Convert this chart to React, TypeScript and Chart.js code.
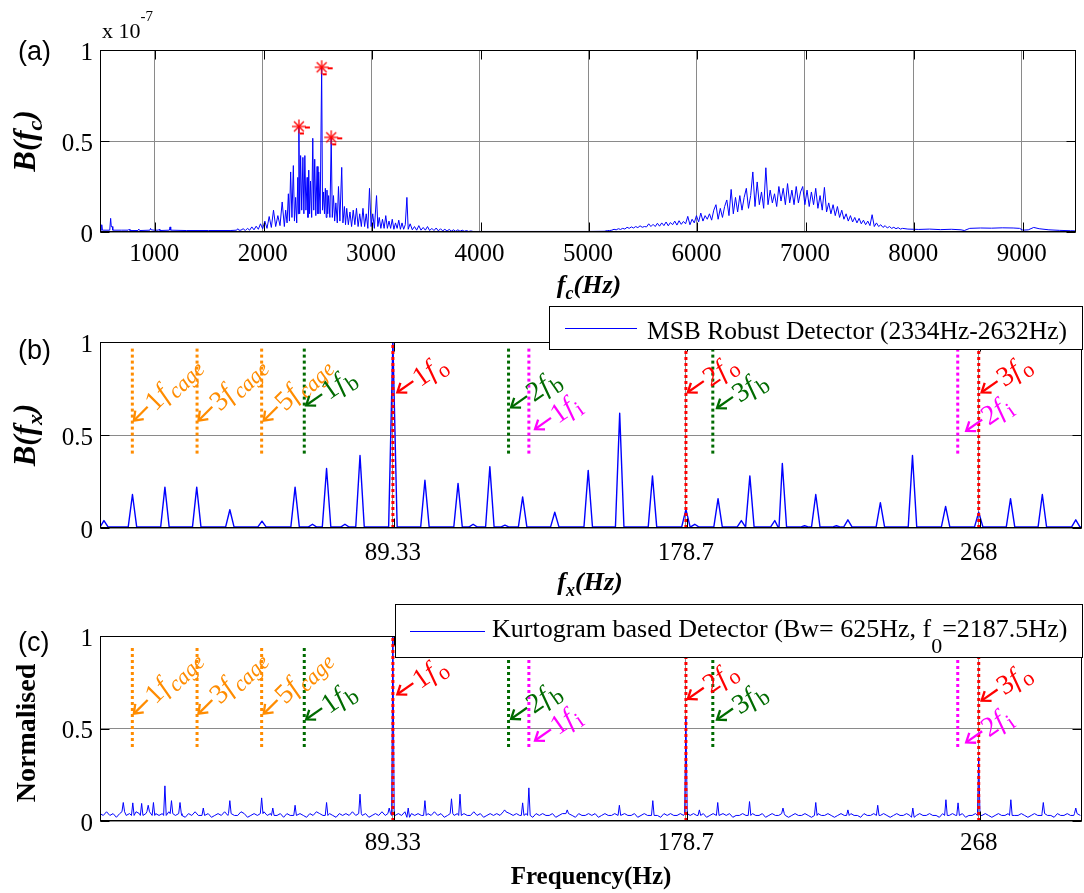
import { useEffect, useRef } from 'react';
import { Chart, registerables } from 'chart.js';

Chart.register(...registerables);

const SERIF = "'Liberation Serif', 'Times New Roman', serif";
const SANS = "'Liberation Sans', Arial, sans-serif";

// ---------------- data ----------------

// (a) bispectral magnitude B(fc) against carrier frequency, in units of 1e-7
const fcRange = [500, 9500];
const fcTicks = [1000, 2000, 3000, 4000, 5000, 6000, 7000, 8000, 9000];
const levelTicks = [0, 0.5, 1];
const levelLabels = ['0', '0.5', '1'];

// the three detected carrier peaks
const detectedHz = [2334, 2544, 2632];
const detectedB = [0.58, 0.905, 0.52];

const fcQuiet: [number, number][] = [
  [500, 0.01], [510, 0.01], [516, 0.04], [522, 0.01], [590, 0.01], [598, 0.075], [604, 0.03], [612, 0.03],
  [618, 0.01], [700, 0.01], [760, 0.01], [768, 0.015], [776, 0.008], [850, 0.008], [858, 0.016], [866, 0.008],
  [960, 0.01], [966, 0.02], [972, 0.012], [1000, 0.01], [1040, 0.01], [1046, 0.015], [1052, 0.008], [1140, 0.01],
  [1146, 0.028], [1152, 0.01], [1300, 0.008], [1500, 0.008], [1700, 0.008], [1760, 0.01], [1770, 0.018], [1780, 0.01],
];

const fcLowerBand: [number, number][] = [
  [1800, 0.01], [1820, 0.018], [1840, 0.008], [1860, 0.02], [1880, 0.01], [1900, 0.028], [1920, 0.012], [1940, 0.032],
  [1960, 0.015], [1980, 0.045], [2000, 0.018], [2020, 0.06], [2040, 0.02], [2060, 0.085], [2080, 0.025], [2100, 0.12],
  [2120, 0.03], [2140, 0.09], [2160, 0.035], [2180, 0.165], [2200, 0.03], [2212, 0.12], [2225, 0.05], [2237, 0.21],
  [2247, 0.06], [2258, 0.33], [2270, 0.08], [2283, 0.365], [2293, 0.06], [2304, 0.19], [2314, 0.05], [2324, 0.3],
  [2329, 0.1], [detectedHz[0], detectedB[0]], [2341, 0.1], [2350, 0.42], [2360, 0.12], [2371, 0.41], [2380, 0.1],
  [2389, 0.42], [2399, 0.12], [2410, 0.3], [2418, 0.08], [2425, 0.34], [2433, 0.1], [2441, 0.28], [2452, 0.08],
  [2462, 0.515], [2471, 0.12], [2480, 0.4], [2490, 0.09], [2502, 0.36], [2510, 0.1], [2517, 0.33], [2530, 0.1],
  [detectedHz[1], detectedB[1]], [2552, 0.12], [2562, 0.22], [2570, 0.1], [2578, 0.24], [2586, 0.08], [2593, 0.23],
  [2600, 0.1], [2608, 0.2], [2620, 0.08], [detectedHz[2], detectedB[2]], [2642, 0.08], [2653, 0.2], [2664, 0.06],
  [2675, 0.16], [2688, 0.05], [2699, 0.25], [2712, 0.06], [2729, 0.355], [2740, 0.05], [2754, 0.14], [2764, 0.04],
  [2775, 0.13], [2790, 0.04], [2805, 0.11], [2820, 0.03], [2835, 0.12], [2850, 0.04], [2865, 0.13], [2880, 0.03],
  [2895, 0.1], [2910, 0.03], [2925, 0.13], [2940, 0.03], [2955, 0.1], [2970, 0.02], [2985, 0.24], [3000, 0.03],
  [3015, 0.1], [3030, 0.02], [3050, 0.2], [3062, 0.03], [3075, 0.08], [3090, 0.02], [3105, 0.07], [3120, 0.02],
  [3135, 0.09], [3150, 0.02], [3165, 0.06], [3180, 0.02], [3195, 0.07], [3210, 0.015], [3225, 0.05], [3240, 0.02],
  [3255, 0.065], [3270, 0.015], [3285, 0.05], [3300, 0.015], [3315, 0.04], [3330, 0.19], [3342, 0.015], [3360, 0.045],
  [3380, 0.012], [3400, 0.03], [3420, 0.01], [3440, 0.035], [3460, 0.01], [3480, 0.025], [3500, 0.01], [3520, 0.03],
  [3540, 0.008], [3560, 0.02], [3580, 0.008], [3600, 0.022], [3620, 0.006], [3640, 0.018], [3660, 0.006], [3680, 0.015],
  [3700, 0.005], [3720, 0.014], [3740, 0.005], [3760, 0.012], [3780, 0.004], [3800, 0.012], [3820, 0.004], [3840, 0.01],
  [3860, 0.004], [3880, 0.008], [3900, 0.003], [3920, 0.006], [3940, 0.003],
];

const fcGap: [number, number][] = [
  [3960, 0.003], [4200, 0.003], [4600, 0.003], [5000, 0.003], [5150, 0.004], [5180, 0.008],
];

// upper resonance band sampled every 20 Hz from 5200 Hz
const upperBandStartHz = 5200;
const upperBandStepHz = 20;
const upperBandB = [
  0.008, 0.01, 0.015, 0.012, 0.018, 0.014, 0.02, 0.016, 0.026, 0.02,
  0.028, 0.022, 0.03, 0.024, 0.034, 0.026, 0.03, 0.028, 0.045, 0.03,
  0.042, 0.03, 0.048, 0.032, 0.05, 0.035, 0.055, 0.034, 0.052, 0.04,
  0.06, 0.038, 0.062, 0.042, 0.058, 0.045, 0.086, 0.04, 0.07, 0.05,
  0.09, 0.055, 0.104, 0.06, 0.09, 0.07, 0.1, 0.065, 0.12, 0.15,
  0.07, 0.13, 0.08, 0.14, 0.176, 0.09, 0.234, 0.1, 0.19, 0.11,
  0.2, 0.12, 0.19, 0.24, 0.13, 0.2, 0.33, 0.14, 0.275, 0.15,
  0.22, 0.13, 0.353, 0.15, 0.23, 0.16, 0.21, 0.14, 0.25, 0.17,
  0.24, 0.15, 0.266, 0.16, 0.23, 0.15, 0.25, 0.16, 0.22, 0.25,
  0.15, 0.23, 0.14, 0.22, 0.15, 0.24, 0.13, 0.2, 0.12, 0.245,
  0.11, 0.16, 0.1, 0.15, 0.09, 0.14, 0.08, 0.12, 0.07, 0.1,
  0.06, 0.09, 0.055, 0.08, 0.05, 0.075, 0.045, 0.065, 0.04, 0.06,
  0.035, 0.095, 0.03, 0.05, 0.03, 0.04, 0.025, 0.035, 0.022, 0.03,
  0.02, 0.026, 0.018, 0.024, 0.016, 0.02,
];

const fcTail: [number, number][] = [
  [7950, 0.016], [8050, 0.014], [8150, 0.016], [8250, 0.013], [8350, 0.015], [8440, 0.012], [8470, 0.008],
  [8520, 0.02], [8620, 0.022], [8720, 0.021], [8820, 0.023], [8920, 0.022], [8980, 0.02], [9010, 0.01],
  [9060, 0.012], [9110, 0.025], [9160, 0.018], [9250, 0.012], [9350, 0.009], [9450, 0.007], [9500, 0.006],
];

// (b) & (c) envelope-spectrum frequency axis
const fxRange = [0, 299.5];
const orderTicks = [89.33, 178.7, 268];
const orderLabels = ['89.33', '178.7', '268'];

// (b) MSB detector: spectral peaks (Hz, normalised magnitude)
const msbPeakHz = [
  1.2, 9.9, 19.8, 29.5, 39.6, 49.4, 59.5, 64.8, 69.1, 74.7, 79.3, 89.33, 99.1, 109.2, 113.8, 118.9, 123.5,
  128.9, 138.7, 148.9, 158.5, 168.5, 178.7, 181.4, 188.5, 195.6, 198.2, 205.8, 208.1, 214.9, 218.3, 224.6,
  228.1, 238, 247.8, 257.9, 268, 277.7, 287.4, 297.6,
];
const msbPeakB = [
  0.04, 0.18, 0.22, 0.22, 0.098, 0.037, 0.22, 0.02, 0.32, 0.02, 0.39, 1.0, 0.257, 0.24, 0.02, 0.33, 0.015,
  0.167, 0.085, 0.31, 0.617, 0.28, 0.1, 0.02, 0.158, 0.04, 0.28, 0.04, 0.347, 0.012, 0.18, 0.012,
  0.044, 0.136, 0.39, 0.116, 0.085, 0.158, 0.18, 0.044,
];
const msbFloor = 0.005;

// (c) kurtogram detector: noise floor every 1 Hz (percent) and spectral peaks
const kurtFloorPct = [
  4, 3, 5, 3, 4, 2, 4, 5, 3, 4, 3, 5, 4, 3, 4, 5, 3, 4, 3, 4,
  3, 5, 4, 3, 4, 3, 2, 4, 3, 5, 3, 4, 3, 4, 2, 3, 4, 3, 5, 3,
  4, 3, 3, 5, 4, 2, 3, 4, 3, 4, 5, 3, 4, 3, 3, 4, 2, 4, 3, 5,
  3, 4, 3, 2, 4, 3, 5, 4, 3, 3, 4, 3, 2, 4, 3, 4, 3, 5, 3, 4,
  3, 4, 2, 3, 4, 3, 5, 3, 4, 3, 3, 4, 3, 5, 2, 4, 3, 4, 3, 3,
  4, 3, 5, 3, 4, 2, 3, 4, 3, 4, 3, 4, 3, 3, 5, 3, 4, 2, 3, 4,
  3, 4, 3, 5, 2, 4, 3, 4, 3, 3, 4, 3, 2, 4, 3, 4, 3, 3, 4, 2,
  3, 4, 3, 4, 3, 2, 4, 3, 3, 4, 3, 4, 2, 3, 4, 3, 3, 4, 3, 3,
  4, 3, 3, 4, 2, 3, 4, 3, 4, 3, 3, 2, 4, 3, 4, 3, 3, 4, 3, 4,
  3, 4, 3, 3, 4, 2, 3, 4, 3, 3, 4, 3, 4, 2, 3, 3, 4, 3, 3, 4,
  3, 3, 4, 2, 3, 4, 3, 3, 4, 3, 2, 3, 4, 3, 3, 4, 3, 2, 3, 4,
  3, 3, 4, 3, 2, 3, 4, 3, 3, 4, 3, 3, 2, 4, 3, 3, 4, 3, 3, 4,
  3, 2, 3, 4, 3, 3, 4, 3, 2, 3, 4, 3, 3, 4, 3, 3, 2, 4, 3, 3,
  4, 3, 3, 4, 2, 3, 3, 4, 3, 3, 4, 3, 2, 3, 4, 3, 3, 4, 3, 3,
  3, 4, 3, 2, 3, 4, 3, 3, 4, 3, 3, 2, 4, 3, 3, 4, 3, 3, 4, 3,
];
const kurtPeakHz = [
  7.1, 10, 12.7, 14.7, 16.3, 19.8, 21.8, 24.4, 31.5, 39.6, 49.3, 52.7, 59.5, 69.1, 79.3, 88.2, 89.33, 94,
  99.1, 107.2, 109.8, 123.4, 128.9, 130.8, 142.5, 158.4, 168.6, 178.7, 182.8, 188.4, 198.1, 208.3, 218.3,
  228.1, 237.2, 247.9, 258, 261.7, 268, 277.8, 287.7, 297.6,
];
const kurtPeakB = [
  0.1, 0.098, 0.095, 0.085, 0.1, 0.19, 0.11, 0.1, 0.07, 0.11, 0.125, 0.07, 0.085, 0.1, 0.145, 0.07, 1.0, 0.07,
  0.11, 0.12, 0.145, 0.06, 0.098, 0.179, 0.06, 0.085, 0.11, 0.565, 0.06, 0.1, 0.105, 0.07, 0.1,
  0.06, 0.085, 0.07, 0.115, 0.098, 0.345, 0.115, 0.1, 0.07,
];

// bearing defect frequencies (Hz)
const cageHz = [9.86, 29.6, 49.3];
const ballHz = [62.3, 124.6, 186.9];
const outerHz = [89.33, 178.7, 268];
const innerHz = [130.8, 261.6];
const markerSpanB = [0.4, 0.975];
const markerSpanC = [0.4, 0.94];

// defect tags: text, subscript and anchor (Hz, level) in each panel
const tagLead = ['1', '3', '5', '1', '1', '2', '1', '2', '3', '3', '2'];
const tagSub = ['cage', 'cage', 'cage', 'b', 'o', 'b', 'i', 'o', 'b', 'o', 'i'];
const tagKind = ['cage', 'cage', 'cage', 'ball', 'outer', 'ball', 'inner', 'outer', 'ball', 'outer', 'inner'];
const tagHz = [10.0, 29.7, 49.6, 62.5, 90.3, 125.0, 132.3, 178.9, 187.8, 268.5, 263.8];
const tagLevelB = [0.572, 0.572, 0.572, 0.655, 0.725, 0.644, 0.527, 0.725, 0.64, 0.725, 0.518];
const tagLevelC = [0.574, 0.574, 0.574, 0.545, 0.68, 0.547, 0.43, 0.655, 0.543, 0.646, 0.42];

// ---------------- styles ----------------

const BLUE = '#0000ff';
const GRID = '#8a8a8a';
const KIND_COLOR: Record<string, string> = {
  cage: '#ff8c00',
  ball: '#006b00',
  outer: '#ff0000',
  inner: '#ff00ff',
};
const KIND_TILT: Record<string, number> = { cage: 45, ball: 35, outer: 35, inner: 35 };

// ---------------- helpers ----------------

type Pt = { x: number; y: number };
type Part = { t: string; font: string; dy?: number };

function drawParts(ctx: CanvasRenderingContext2D, parts: Part[], x: number, y: number, align: 'left' | 'center') {
  let w = 0;
  for (const p of parts) {
    ctx.font = p.font;
    w += ctx.measureText(p.t).width;
  }
  let cx = align === 'center' ? x - w / 2 : x;
  ctx.textAlign = 'left';
  ctx.textBaseline = 'alphabetic';
  for (const p of parts) {
    ctx.font = p.font;
    ctx.fillText(p.t, cx, y + (p.dy || 0));
    cx += ctx.measureText(p.t).width;
  }
  return w;
}

function spikeTrace(hz: number[], amp: number[], floor: number, halfWidth: number, xMax: number): Pt[] {
  const pts: Pt[] = [{ x: 0, y: floor }];
  hz.forEach((h, i) => {
    pts.push({ x: h - halfWidth, y: floor }, { x: h, y: amp[i] }, { x: h + halfWidth, y: floor });
  });
  pts.push({ x: xMax, y: floor });
  return pts.sort((a, b) => a.x - b.x);
}

function kurtTrace(): Pt[] {
  const pts: Pt[] = [];
  kurtFloorPct.forEach((p, i) => {
    if (!kurtPeakHz.some((h) => Math.abs(h - i) < 0.6)) pts.push({ x: i, y: p / 100 });
  });
  kurtPeakHz.forEach((h, i) => {
    const base = kurtFloorPct[Math.min(kurtFloorPct.length - 1, Math.round(h))] / 100;
    pts.push({ x: h - 0.4, y: base }, { x: h, y: kurtPeakB[i] }, { x: h + 0.4, y: base });
  });
  return pts.sort((a, b) => a.x - b.x);
}

function carrierTrace(): Pt[] {
  const upper: [number, number][] = upperBandB.map((v, i) => [upperBandStartHz + i * upperBandStepHz, v]);
  return [...fcQuiet, ...fcLowerBand, ...fcGap, ...upper, ...fcTail]
    .map(([x, y]) => ({ x, y }))
    .sort((a, b) => a.x - b.x);
}

function asteriskGlyph(color: string) {
  const c = document.createElement('canvas');
  c.width = 36;
  c.height = 36;
  const g = c.getContext('2d')!;
  g.strokeStyle = color;
  g.lineWidth = 1.3;
  const cx = 18, cy = 18, r = 7;
  for (let k = 0; k < 4; k++) {
    const a = (k * Math.PI) / 4;
    g.beginPath();
    g.moveTo(cx - r * Math.cos(a), cy - r * Math.sin(a));
    g.lineTo(cx + r * Math.cos(a), cy + r * Math.sin(a));
    g.stroke();
  }
  g.lineWidth = 2;
  g.beginPath();
  g.moveTo(cx + 6, cy + 1);
  g.lineTo(cx + 11, cy + 1);
  g.stroke();
  g.beginPath();
  g.moveTo(cx + 1, cy + 7);
  g.lineTo(cx + 5, cy + 7);
  g.stroke();
  return c;
}

function scales(xMin: number, xMax: number, xTicks: number[], xLabels: string[], xPad: number, axisH: number) {
  return {
    x: {
      type: 'linear',
      min: xMin,
      max: xMax,
      afterBuildTicks: (s: any) => {
        s.ticks = xTicks.map((v) => ({ value: v }));
      },
      afterFit: (s: any) => {
        s.height = axisH;
      },
      ticks: {
        autoSkip: false,
        maxRotation: 0,
        minRotation: 0,
        padding: xPad,
        color: '#000',
        font: { family: SERIF, size: 25 },
        callback: (_v: any, i: number) => xLabels[i],
      },
      grid: { color: GRID, lineWidth: 1, drawTicks: false },
      border: { display: false },
    },
    y: {
      type: 'linear',
      min: 0,
      max: 1,
      afterBuildTicks: (s: any) => {
        s.ticks = levelTicks.map((v) => ({ value: v }));
      },
      afterFit: (s: any) => {
        s.width = 100;
      },
      ticks: {
        padding: 7,
        labelOffset: 3,
        color: '#000',
        font: { family: SERIF, size: 25 },
        callback: (_v: any, i: number) => levelLabels[i],
      },
      grid: { color: GRID, lineWidth: 1, drawTicks: false },
      border: { display: false },
    },
  };
}

function frameAndTicks(chart: any, xTicks: number[]) {
  const { ctx, chartArea: a, scales: s } = chart;
  ctx.save();
  ctx.strokeStyle = '#000';
  ctx.lineWidth = 1;
  const L = Math.round(a.left) + 0.5, R = Math.round(a.right) - 0.5;
  const T = Math.round(a.top) + 0.5, B = Math.round(a.bottom) - 0.5;
  ctx.strokeRect(L, T, R - L, B - T);
  const len = 9;
  ctx.beginPath();
  for (const v of xTicks) {
    const px = Math.round(s.x.getPixelForValue(v)) + 1.5;
    ctx.moveTo(px, T); ctx.lineTo(px, T + len);
    ctx.moveTo(px, B); ctx.lineTo(px, B - len);
  }
  for (const v of levelTicks) {
    const py = Math.round(s.y.getPixelForValue(v)) + 0.5;
    ctx.moveTo(L, py); ctx.lineTo(L + len, py);
    ctx.moveTo(R, py); ctx.lineTo(R - len, py);
  }
  ctx.stroke();
  ctx.restore();
}

// a leftward arrow whose tip sits on the anchor, followed by the tilted label
function drawTag(ctx: CanvasRenderingContext2D, x: number, y: number, kind: string, lead: string, sub: string) {
  const size = 28;
  const color = KIND_COLOR[kind];
  ctx.save();
  ctx.translate(x, y);
  ctx.rotate((-KIND_TILT[kind] * Math.PI) / 180);
  ctx.strokeStyle = color;
  ctx.fillStyle = color;
  ctx.lineWidth = 2.3;
  ctx.lineCap = 'butt';
  ctx.lineJoin = 'miter';
  ctx.beginPath();
  ctx.moveTo(2, 0);
  ctx.lineTo(21, 0);
  ctx.stroke();
  ctx.beginPath();
  ctx.moveTo(9.5, -6);
  ctx.lineTo(1.5, 0);
  ctx.lineTo(9.5, 6);
  ctx.stroke();
  const base = size * 0.33;
  drawParts(
    ctx,
    [
      { t: lead, font: `${size}px ${SERIF}` },
      { t: 'f', font: `italic ${size}px ${SERIF}` },
      { t: ' ', font: `${size * 0.25}px ${SERIF}` },
      { t: sub, font: `${sub === 'cage' ? 'italic ' : ''}${Math.round(size * 0.8)}px ${SERIF}`, dy: size * 0.22 },
    ],
    23,
    base,
    'left'
  );
  ctx.restore();
}

function markerSets(span: number[]) {
  const sets: any[] = [];
  const add = (hz: number[], kind: string, lo: number, hi: number) =>
    hz.forEach((h) =>
      sets.push({
        data: [{ x: h, y: lo }, { x: h, y: hi }],
        borderColor: KIND_COLOR[kind],
        borderWidth: 3,
        borderDash: [3, 3],
        borderCapStyle: 'butt',
        pointRadius: 0,
        order: 0,
      })
    );
  add(cageHz, 'cage', span[0], span[1]);
  add(ballHz, 'ball', span[0], span[1]);
  add(innerHz, 'inner', span[0], span[1]);
  add(outerHz, 'outer', 0, 1);
  return sets;
}

const common = {
  animation: false,
  responsive: false,
  maintainAspectRatio: false,
  devicePixelRatio: 1,
  events: [],
  plugins: { legend: { display: false }, tooltip: { enabled: false } },
};

function yTitle(ctx: CanvasRenderingContext2D, cx: number, cy: number, parts: Part[]) {
  ctx.save();
  ctx.translate(cx, cy);
  ctx.rotate(-Math.PI / 2);
  drawParts(ctx, parts, 0, 0, 'center');
  ctx.restore();
}

const yTitleFont = `bold italic 31px ${SERIF}`;
const yTitleSub = `bold italic 22px ${SERIF}`;

// ---------------- panels ----------------

function configA(): any {
  return {
    type: 'line',
    data: {
      datasets: [
        {
          data: detectedHz.map((x, i) => ({ x, y: detectedB[i] })),
          showLine: false,
          pointStyle: asteriskGlyph('#ff0000'),
          pointRadius: 7,
          order: 0,
        },
        {
          data: carrierTrace(),
          borderColor: BLUE,
          borderWidth: 1,
          borderJoinStyle: 'round',
          pointRadius: 0,
          tension: 0,
          order: 5,
        },
      ],
    },
    options: {
      ...common,
      layout: { padding: { left: 0, right: 2, top: 50, bottom: 0 } },
      scales: scales(fcRange[0], fcRange[1], fcTicks, fcTicks.map(String), 7, 68),
    },
    plugins: [
      {
        id: 'panelA',
        afterDraw(chart: any) {
          const ctx = chart.ctx as CanvasRenderingContext2D;
          frameAndTicks(chart, fcTicks);
          ctx.save();
          ctx.fillStyle = '#000';
          drawParts(ctx, [{ t: '(a)', font: `27px ${SANS}` }], 18, 60, 'left');
          drawParts(
            ctx,
            [
              { t: 'x 10', font: `22px ${SERIF}` },
              { t: '-7', font: `15px ${SERIF}`, dy: -17 },
            ],
            102,
            38,
            'left'
          );
          drawParts(
            ctx,
            [
              { t: 'f', font: `bold italic 26px ${SERIF}` },
              { t: 'c', font: `bold italic 18px ${SERIF}`, dy: 6 },
              { t: '(Hz)', font: `bold italic 26px ${SERIF}` },
            ],
            589,
            293,
            'center'
          );
          yTitle(ctx, 35, 141, [
            { t: 'B(', font: yTitleFont },
            { t: 'f', font: yTitleFont },
            { t: 'c', font: yTitleSub, dy: 7 },
            { t: ')', font: yTitleFont },
          ]);
          ctx.restore();
        },
      },
    ],
  };
}

function tagsPlugin(chart: any, levels: number[]) {
  const ctx = chart.ctx as CanvasRenderingContext2D;
  const { x, y } = chart.scales;
  tagHz.forEach((h, i) => {
    drawTag(ctx, x.getPixelForValue(h), y.getPixelForValue(levels[i]), tagKind[i], tagLead[i], tagSub[i]);
  });
}

function configB(): any {
  return {
    type: 'line',
    data: {
      datasets: [
        ...markerSets(markerSpanB),
        {
          data: spikeTrace(msbPeakHz, msbPeakB, msbFloor, 1.3, fxRange[1]),
          borderColor: BLUE,
          borderWidth: 1.4,
          borderJoinStyle: 'round',
          pointRadius: 0,
          tension: 0,
          order: 5,
        },
      ],
    },
    options: {
      ...common,
      layout: { padding: { left: 0, right: 2, top: 42, bottom: 0 } },
      scales: scales(fxRange[0], fxRange[1], orderTicks, orderLabels, 10, 72),
    },
    plugins: [
      {
        id: 'panelB',
        afterDraw(chart: any) {
          const ctx = chart.ctx as CanvasRenderingContext2D;
          frameAndTicks(chart, orderTicks);
          tagsPlugin(chart, tagLevelB);
          ctx.save();
          // legend
          ctx.fillStyle = '#fff';
          ctx.fillRect(549, 6, 534, 44);
          ctx.strokeStyle = '#000';
          ctx.lineWidth = 1;
          ctx.strokeRect(549.5, 6.5, 533, 43);
          ctx.strokeStyle = BLUE;
          ctx.beginPath();
          ctx.moveTo(565, 28.5);
          ctx.lineTo(637, 28.5);
          ctx.stroke();
          ctx.fillStyle = '#000';
          drawParts(
            ctx,
            [{ t: `MSB Robust Detector (${detectedHz[0]}Hz-${detectedHz[2]}Hz)`, font: `25.5px ${SERIF}` }],
            647,
            39,
            'left'
          );
          drawParts(ctx, [{ t: '(b)', font: `27px ${SANS}` }], 18, 59, 'left');
          drawParts(
            ctx,
            [
              { t: 'f', font: `bold italic 26px ${SERIF}` },
              { t: 'x', font: `bold italic 18px ${SERIF}`, dy: 6 },
              { t: '(Hz)', font: `bold italic 26px ${SERIF}` },
            ],
            590,
            290,
            'center'
          );
          yTitle(ctx, 35, 135, [
            { t: 'B(', font: yTitleFont },
            { t: 'f', font: yTitleFont },
            { t: 'x', font: yTitleSub, dy: 7 },
            { t: ')', font: yTitleFont },
          ]);
          ctx.restore();
        },
      },
    ],
  };
}

function configC(): any {
  return {
    type: 'line',
    data: {
      datasets: [
        ...markerSets(markerSpanC),
        {
          data: kurtTrace(),
          borderColor: BLUE,
          borderWidth: 1,
          borderJoinStyle: 'round',
          pointRadius: 0,
          tension: 0,
          order: 5,
        },
      ],
    },
    options: {
      ...common,
      layout: { padding: { left: 0, right: 2, top: 44, bottom: 0 } },
      scales: scales(fxRange[0], fxRange[1], orderTicks, orderLabels, 7, 72),
    },
    plugins: [
      {
        id: 'panelC',
        afterDraw(chart: any) {
          const ctx = chart.ctx as CanvasRenderingContext2D;
          frameAndTicks(chart, orderTicks);
          tagsPlugin(chart, tagLevelC);
          ctx.save();
          // legend
          ctx.fillStyle = '#fff';
          ctx.fillRect(395, 12, 688, 54);
          ctx.strokeStyle = '#000';
          ctx.lineWidth = 1;
          ctx.strokeRect(395.5, 12.5, 687, 53);
          ctx.strokeStyle = BLUE;
          ctx.beginPath();
          ctx.moveTo(410, 39.5);
          ctx.lineTo(485, 39.5);
          ctx.stroke();
          ctx.fillStyle = '#000';
          drawParts(
            ctx,
            [
              { t: 'Kurtogram based Detector (Bw= 625Hz, f', font: `26px ${SERIF}` },
              { t: '0', font: `22px ${SERIF}`, dy: 16 },
              { t: '=2187.5Hz)', font: `26px ${SERIF}` },
            ],
            492,
            45,
            'left'
          );
          drawParts(ctx, [{ t: '(c)', font: `27px ${SANS}` }], 18, 59, 'left');
          drawParts(ctx, [{ t: 'Frequency(Hz)', font: `bold 25px ${SERIF}` }], 591, 292, 'center');
          yTitle(ctx, 35, 141, [{ t: 'Normalised', font: `bold 28px ${SERIF}` }]);
          ctx.restore();
        },
      },
    ],
  };
}

// ---------------- component ----------------

export default function App() {
  const aRef = useRef<HTMLCanvasElement>(null);
  const bRef = useRef<HTMLCanvasElement>(null);
  const cRef = useRef<HTMLCanvasElement>(null);

  useEffect(() => {
    const charts = [
      new Chart(aRef.current!, configA()),
      new Chart(bRef.current!, configB()),
      new Chart(cRef.current!, configC()),
    ];
    return () => charts.forEach((c) => c.destroy());
  }, []);

  const canvasStyle = (top: number, h: number): React.CSSProperties => ({
    position: 'absolute',
    left: 0,
    top,
    width: 1084,
    height: h,
  });

  return (
    <div style={{ position: 'absolute', left: 0, top: 0, width: 1084, height: 893, background: '#fff' }}>
      <canvas ref={aRef} width={1084} height={300} style={canvasStyle(0, 300)} />
      <canvas ref={bRef} width={1084} height={300} style={canvasStyle(300, 300)} />
      <canvas ref={cRef} width={1084} height={301} style={canvasStyle(592, 301)} />
    </div>
  );
}
